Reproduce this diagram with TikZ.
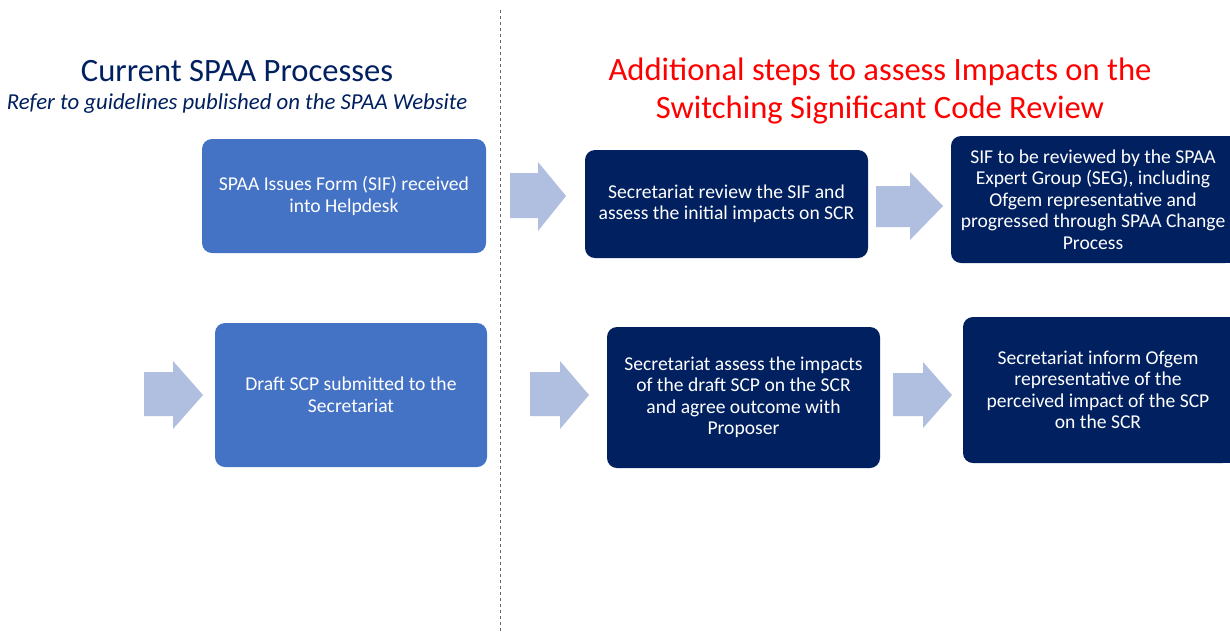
\documentclass[tikz,border=0pt]{standalone}
\usepackage{xcolor}
\usepackage{fontspec}
\setmainfont{Carlito}
\usepackage{tikz}

\definecolor{lightbox}{HTML}{4472C4}
\definecolor{darkbox}{HTML}{002060}
\definecolor{arrowfill}{HTML}{B0BEE0}
\definecolor{titlered}{HTML}{FF0000}

\tikzset{
  procbox/.style={rectangle, rounded corners=10pt, text=white, align=center,
    inner sep=0pt, font=\fontsize{19.6}{21.5}\selectfont},
  currentbox/.style={procbox, fill=lightbox},
  extrabox/.style={procbox, fill=darkbox},
  blockarrow/.style={fill=arrowfill}
}

\begin{document}
\begin{tikzpicture}[x=1pt,y=-1pt]
        \path[use as bounding box, clip] (0,0) rectangle (1230,633);
        \fill[white] (0,0) rectangle (1230,633);
        %% divider
        \draw[gray!80!black, dashed, thin] (500,10) -- (500,633);
        %% headings
        \node[text=darkbox, font=\fontsize{32.6}{38}\selectfont] (curtitle) at (237,71) {Current SPAA Processes};
        \node[text=darkbox, font=\fontsize{22.8}{26}\selectfont\itshape] (cursub) at (237,104) {Refer to guidelines published on the SPAA Website};
        \node[text=titlered, align=center, font=\fontsize{32.6}{38}\selectfont] (addtitle) at (880,90.5) {Additional steps to assess Impacts on the\\Switching Significant Code Review};
        %% right edge of the boxes that run off the page
        \fill[darkbox] (1100,136) rectangle (1240,263);
        \fill[darkbox] (1100,317) rectangle (1240,463);
        %% boxes, top row
        \node[currentbox, minimum width=284pt, minimum height=114pt] (sif) at (344,196) {SPAA Issues Form (SIF) received\\into Helpdesk};
        \node[extrabox, minimum width=283pt, minimum height=108pt] (review) at (726.5,204) {Secretariat review the SIF and\\assess the initial impacts on SCR};
        \node[extrabox, minimum width=284pt, minimum height=127pt] (seg) at (1093,199.5) {SIF to be reviewed by the SPAA\\Expert Group (SEG), including\\Ofgem representative and\\progressed through SPAA Change\\Process};
        %% boxes, bottom row
        \node[currentbox, minimum width=272pt, minimum height=144pt] (scp) at (351,395) {Draft SCP submitted to the\\Secretariat};
        \node[extrabox, minimum width=273pt, minimum height=141pt] (assess) at (743.5,397.5) {Secretariat assess the impacts\\of the draft SCP on the SCR\\and agree outcome with\\Proposer};
        \node[extrabox, minimum width=270pt, minimum height=146pt] (inform) at (1098,390) {Secretariat inform Ofgem\\representative of the\\perceived impact of the SCP\\on the SCR};
        %% block arrows
        \fill[blockarrow] (510,173) -- (538,173) -- (538,162) -- (566,196) -- (538,231) -- (538,218) -- (510,218) -- cycle;
        \fill[blockarrow] (876,186) -- (910,186) -- (910,172) -- (943,206) -- (910,240) -- (910,227) -- (876,227) -- cycle;
        \fill[blockarrow] (144,372) -- (173,372) -- (173,361) -- (203,395) -- (173,429) -- (173,416) -- (144,416) -- cycle;
        \fill[blockarrow] (530,372) -- (560,372) -- (560,361) -- (589,395) -- (560,429) -- (560,416) -- (530,416) -- cycle;
        \fill[blockarrow] (893,373) -- (923,373) -- (923,362) -- (952,395) -- (923,428) -- (923,416) -- (893,416) -- cycle;
\end{tikzpicture}
\end{document}
